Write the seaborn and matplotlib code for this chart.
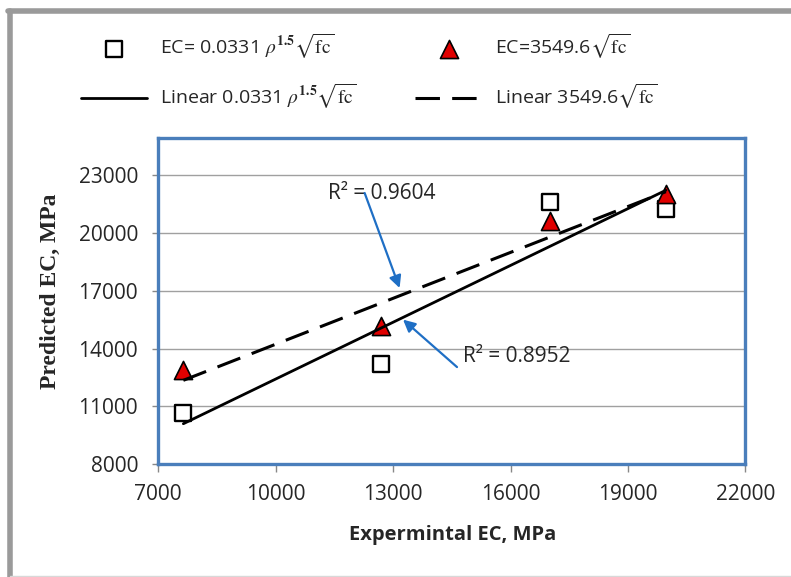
import numpy as np, pandas as pd, matplotlib
matplotlib.use('Agg')
import matplotlib.pyplot as plt
import seaborn as sns
from matplotlib.lines import Line2D

# data
exp_ec = [7640, 12700, 17000, 19970]
pred_rho = [10650, 13200, 21600, 21220]
pred_sqrt = [12870, 15150, 20610, 22000]
lab_rho = r'EC= 0.0331 $\rho^{\mathbf{1.5}}\sqrt{\mathrm{fc}}$'
lab_sqrt = r'EC=3549.6$\sqrt{\mathrm{fc}}$'
lab_lin_rho = r'Linear 0.0331 $\rho^{\mathbf{1.5}}\sqrt{\mathrm{fc}}$'
lab_lin_sqrt = r'Linear 3549.6$\sqrt{\mathrm{fc}}$'
r2_sqrt = 'R² = 0.9604'
r2_rho = 'R² = 0.8952'
xticks = [7000, 10000, 13000, 16000, 19000, 22000]
yticks = [8000, 11000, 14000, 17000, 20000, 23000]

sns.set_style('white')
plt.rcParams['font.family'] = ['Open Sans', 'DejaVu Sans']
plt.rcParams['mathtext.fontset'] = 'stix'

df = pd.DataFrame({'exp': exp_ec, 'rho': pred_rho, 'sq': pred_sqrt})

fig = plt.figure(figsize=(7.91, 5.77), dpi=100)
ax = fig.add_axes([158.3/791, 1-464.3/577, 587/791, 326/577])

sns.scatterplot(data=df, x='exp', y='rho', ax=ax, marker='s', s=125, color='white',
                edgecolor='black', linewidth=1.7, zorder=3, legend=False)
sns.scatterplot(data=df, x='exp', y='sq', ax=ax, marker='^', s=170, color='#e00000',
                edgecolor='black', linewidth=1.2, zorder=4, legend=False)
sns.regplot(data=df, x='exp', y='rho', ax=ax, scatter=False, ci=None,
            line_kws=dict(color='black', lw=2, zorder=5))
sns.regplot(data=df, x='exp', y='sq', ax=ax, scatter=False, ci=None,
            line_kws=dict(color='black', lw=2.2, ls=(0, (8, 4)), zorder=5))

ax.set_xlim(7000, 22000)
ax.set_ylim(8000, 24900)
ax.set_xticks(xticks)
ax.set_yticks(yticks)
ax.grid(axis='y', color='#a0a0a0', lw=1)
ax.set_axisbelow(True)
for s in ax.spines.values():
    s.set_color('#4a7ebb'); s.set_linewidth(2.4)
ax.tick_params(axis='y', length=4.5, width=1, color='#888888', pad=10, labelsize=15, left=True)
ax.tick_params(axis='x', length=6, width=1, color='#888888', pad=8, labelsize=15, bottom=True)

ax.set_xlabel('Expermintal EC, MPa', fontsize=14.5, fontweight='bold')
ax.set_ylabel('Predicted EC, MPa', fontsize=17, fontweight='bold', family='Liberation Serif')
ax.xaxis.set_label_coords(0.502, -0.185)
ax.yaxis.set_label_coords(-0.165, 0.53)

# R2 notes with blue arrows
ax.text(11330, 22064, r2_sqrt, fontsize=15, va='center', ha='left')
ax.text(14786, 13578, r2_rho, fontsize=15, va='center', ha='left')
arr = dict(arrowstyle='-|>', color='#1f6fc5', lw=1.6, mutation_scale=18, shrinkA=0, shrinkB=0)
ax.annotate('', xy=(13166, 17140), xytext=(12273, 22064), arrowprops=arr)
ax.annotate('', xy=(13254, 15500), xytext=(14633, 13041), arrowprops=arr)

handles = [ax.collections[0], ax.lines[0], ax.collections[1], ax.lines[1]]
labels = [lab_rho, lab_lin_rho, lab_sqrt, lab_lin_sqrt]
fig.legend(handles, labels, ncol=2, loc='upper left', bbox_to_anchor=(81/791, 1-32/577),
           frameon=False, fontsize=14, handlelength=3.4, handletextpad=0.67, columnspacing=3.0,
           labelspacing=1.1, borderpad=0, borderaxespad=0)

# chart-area frame: dark edge on top and left, faint line at the bottom
fig.add_artist(Line2D([10/791, 10/791], [0, 1-11/577], transform=fig.transFigure, color='#9a9a9a', lw=4))
fig.add_artist(Line2D([8/791, 1], [1-11/577, 1-11/577], transform=fig.transFigure, color='#9a9a9a', lw=4))
fig.add_artist(Line2D([10/791, 1], [1/577, 1/577], transform=fig.transFigure, color='#d8d8d8', lw=1))
fig.savefig('out.png', dpi=100)
